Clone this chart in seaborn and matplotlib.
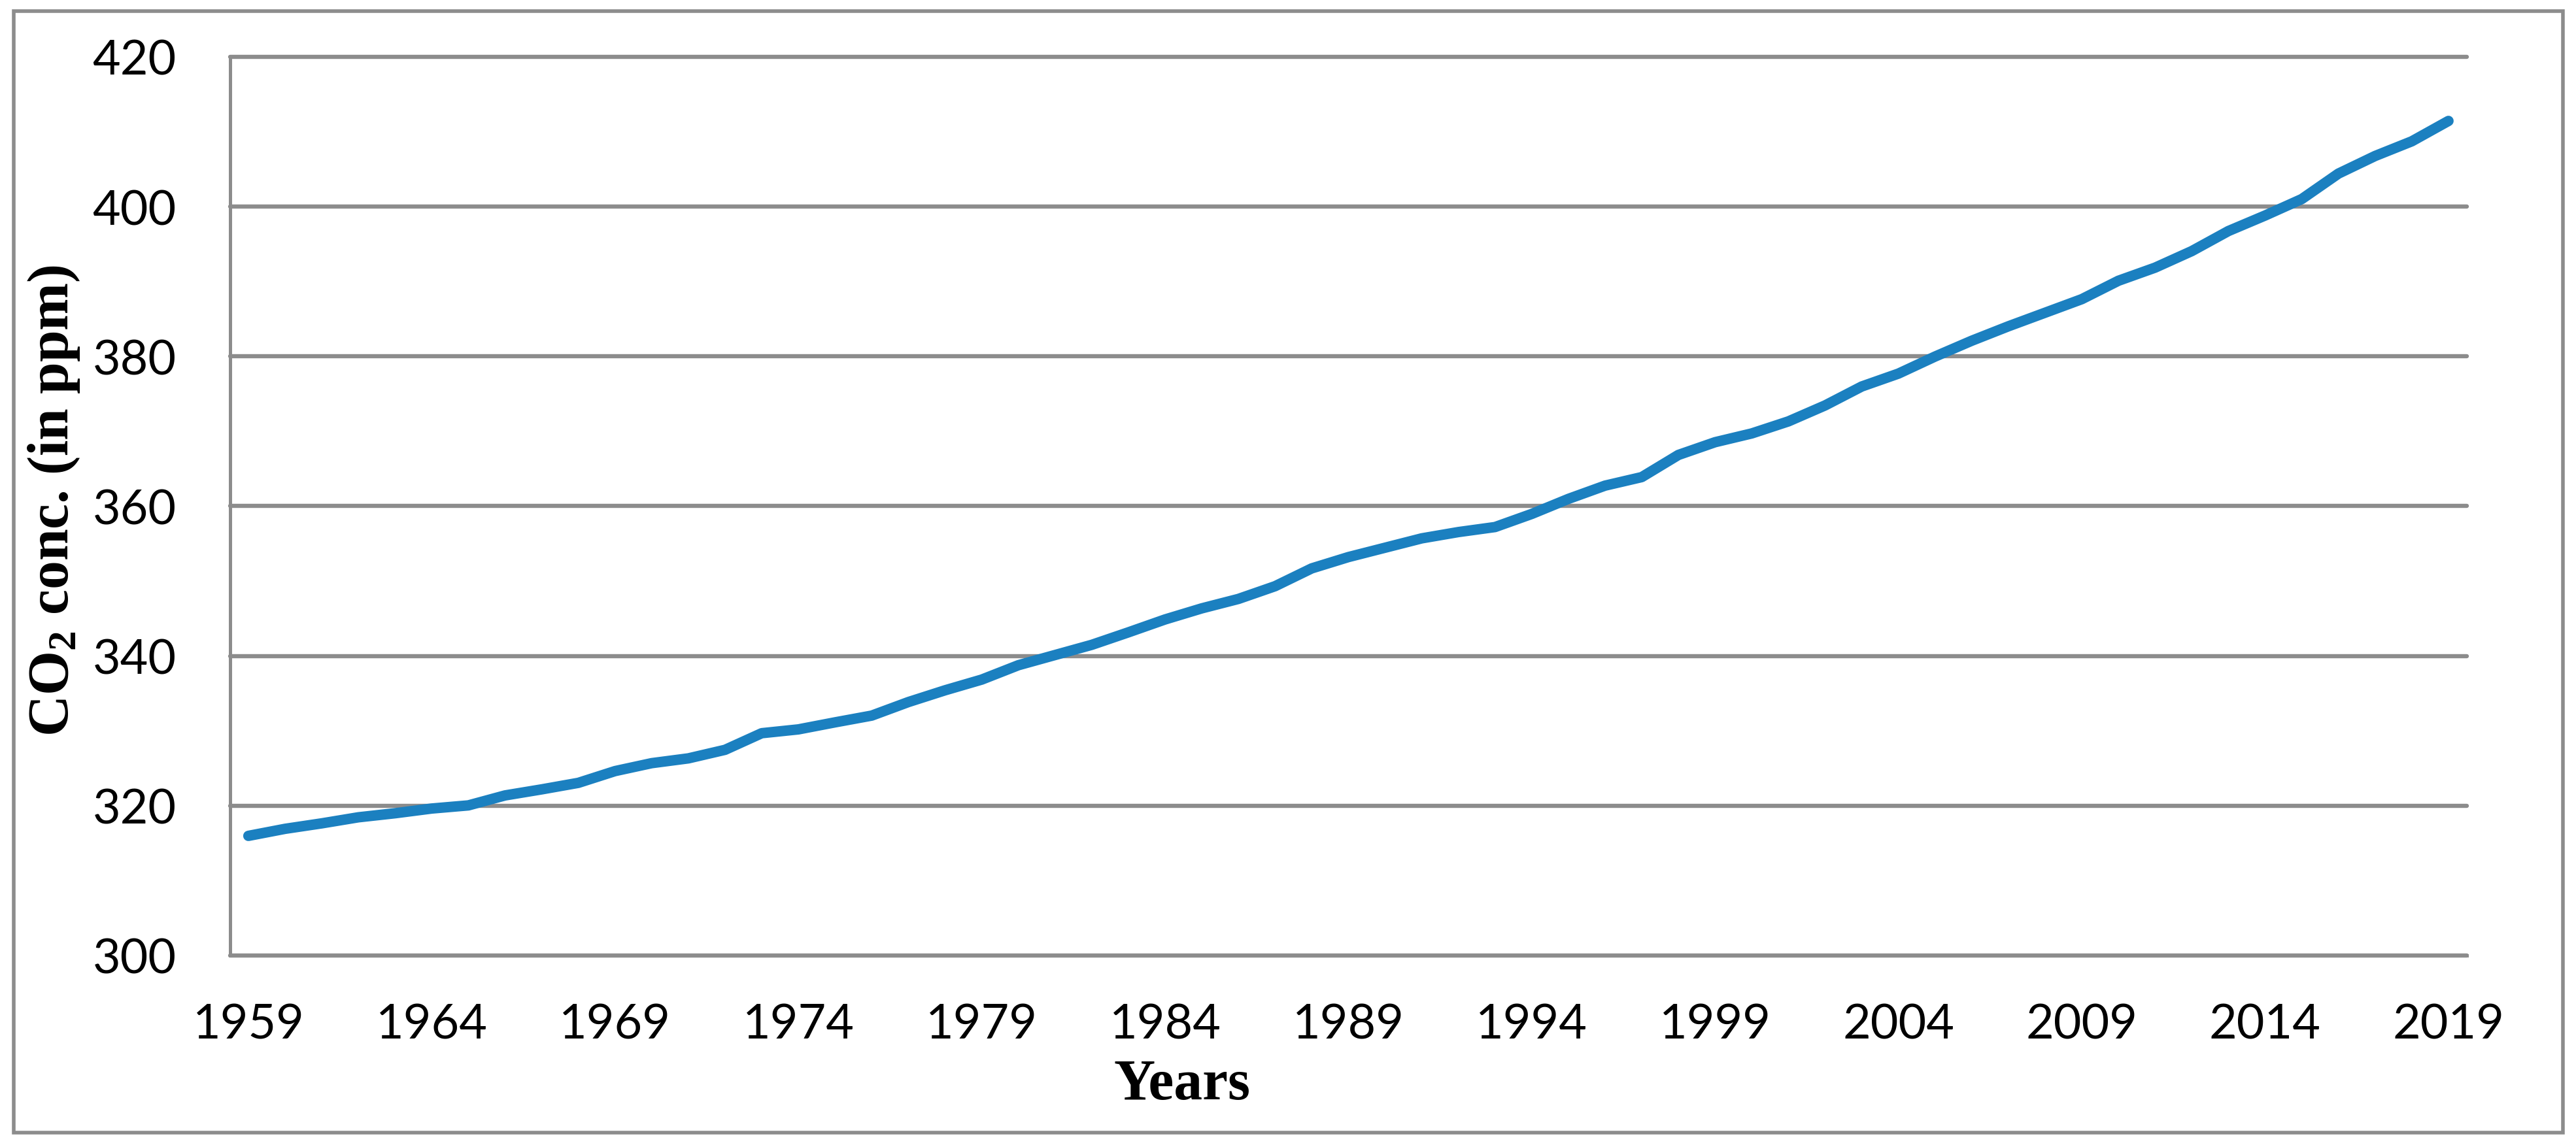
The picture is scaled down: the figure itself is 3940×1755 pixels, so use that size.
import numpy as np
import pandas as pd
import seaborn as sns
import matplotlib.pyplot as plt
from matplotlib.patches import Rectangle

# Annual mean CO2 (ppm)
years = list(range(1959, 2020))
co2 = [315.97, 316.91, 317.64, 318.45, 318.99, 319.62, 320.04, 321.37, 322.18, 323.05,
       324.62, 325.68, 326.32, 327.46, 329.68, 330.19, 331.13, 332.03, 333.84, 335.41,
       336.84, 338.76, 340.12, 341.48, 343.15, 344.87, 346.35, 347.61, 349.31, 351.69,
       353.20, 354.45, 355.70, 356.54, 357.21, 358.96, 360.97, 362.74, 363.88, 366.84,
       368.54, 369.71, 371.32, 373.45, 375.98, 377.70, 379.98, 382.09, 384.02, 385.83,
       387.64, 390.10, 391.85, 394.06, 396.74, 398.81, 401.01, 404.41, 406.76, 408.72,
       411.44]
x_ticks = list(range(1959, 2020, 5))
y_ticks = [300, 320, 340, 360, 380, 400, 420]

df = pd.DataFrame({'Year': years, 'CO2': co2})

sns.set_style('white')
plt.rcParams['font.family'] = ['Lato', 'DejaVu Sans']
plt.rcParams['text.color'] = 'black'
plt.rcParams['mathtext.fontset'] = 'custom'
plt.rcParams['mathtext.rm'] = 'Liberation Serif:bold'
plt.rcParams['mathtext.it'] = 'Liberation Serif:bold'
plt.rcParams['mathtext.bf'] = 'Liberation Serif:bold'

grey = '#8c8c8c'

fig = plt.figure(figsize=(39.4, 17.56), dpi=100)
ax = fig.add_axes([0.0893, 0.1669, 0.8683, 0.7830])

sns.lineplot(data=df, x='Year', y='CO2', ax=ax, color='#1b80c0', linewidth=11.5,
             solid_capstyle='round', solid_joinstyle='round')

ax.set_xlim(1958.5, 2019.5)
ax.set_ylim(300, 420)
ax.set_xticks(x_ticks)
ax.set_xticklabels([str(y) for y in x_ticks])
ax.set_yticks(y_ticks)
ax.set_yticklabels([str(v) for v in y_ticks])
ax.tick_params(axis='both', length=0, labelsize=53, colors='black')
ax.tick_params(axis='y', pad=59)
ax.tick_params(axis='x', pad=52)

ax.grid(axis='y', color=grey, linewidth=4.6)
ax.grid(axis='x', visible=False)
for gl in ax.get_ygridlines():
    gl.set_clip_on(False)
ax.set_axisbelow(True)

for side in ['top', 'right']:
    ax.spines[side].set_visible(False)
for side in ['left', 'bottom']:
    ax.spines[side].set_color(grey)
    ax.spines[side].set_linewidth(3.6)

ax.set_xlabel('')
ax.set_ylabel('')

fig.text(1808 / 3940, 1 - 1661 / 1756, 'Years', ha='center', va='center', color='black',
         family='Liberation Serif', fontweight='bold', fontsize=63)
fig.text(83 / 3940, 1 - 766 / 1756, r'CO$_2$ conc. (in ppm)', ha='center', va='center',
         color='black', rotation=90, family='Liberation Serif', fontweight='bold', fontsize=63)

# chart border
fig.patches.append(Rectangle((21 / 3940, 1 - 1734 / 1756), 3899 / 3940, 1716 / 1756,
                             transform=fig.transFigure, fill=False,
                             edgecolor=grey, linewidth=4))

fig.savefig('out.png', dpi=100, facecolor='white')
